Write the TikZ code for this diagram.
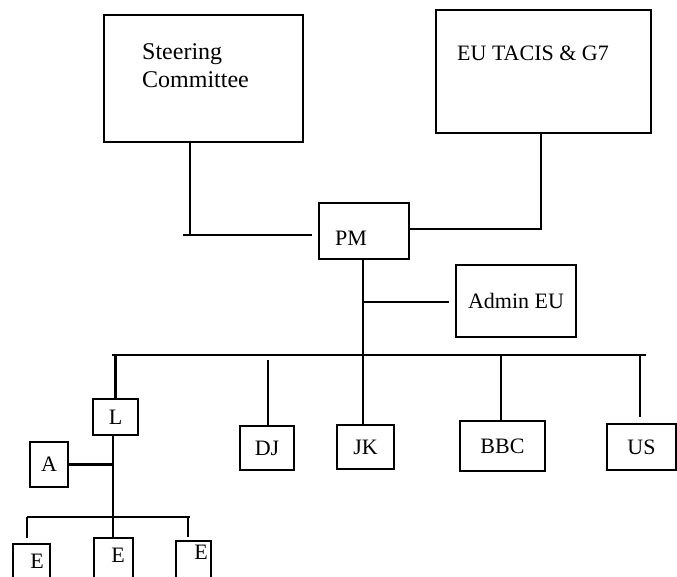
\documentclass[tikz,border=0pt]{standalone}
\usepackage{fontspec}
\setmainfont{Liberation Serif}
\begin{document}
\begin{tikzpicture}[x=1pt,y=-1pt,
  box/.style={draw=black,line width=2.8pt,inner sep=0pt,outer sep=0pt,font=\fontsize{22}{27}\selectfont},
  txt/.style={inner sep=0pt,font=\fontsize{22}{28}\selectfont},
  conn/.style={draw=black,line width=2.5pt}]
\useasboundingbox (0,0) rectangle (677,576);
\clip (0,0) rectangle (677,576);
% boxes
\node[box,minimum width=199pt,minimum height=127pt] (steer) at (203.5,78.5) {};
\node[txt,anchor=west,align=left,font=\fontsize{24}{28}\selectfont] (steert) at (142,66) {Steering\\Committee};
\node[box,minimum width=215pt,minimum height=123pt] (eu) at (543.5,71.5) {};
\node[txt] (eut) at (533,53) {EU TACIS \& G7};
\node[box,minimum width=90pt,minimum height=56pt] (pm) at (364,231) {};
\node[txt] (pmt) at (351,238) {PM};
\node[box,minimum width=120pt,minimum height=72pt] (admin) at (516,301) {Admin EU};
\node[box,minimum width=45pt,minimum height=36pt] (L) at (115.5,417) {L};
\node[box,minimum width=54pt,minimum height=44pt] (dj) at (267,448) {DJ};
\node[box,minimum width=57pt,minimum height=44pt] (jk) at (365.5,447) {JK};
\node[box,minimum width=85pt,minimum height=50pt] (bbc) at (502.5,446) {BBC};
\node[box,minimum width=69pt,minimum height=46pt] (us) at (641.5,447) {US};
\node[box,minimum width=38pt,minimum height=45pt] (A) at (49,464.5) {A};
\node[box,minimum width=37pt,minimum height=46pt] (E1) at (31.5,567) {};
\node[txt] (E1t) at (37,561) {E};
\node[box,minimum width=39pt,minimum height=52pt] (E2) at (113.5,564) {};
\node[txt] (E2t) at (118,555) {E};
\node[box,minimum width=35pt,minimum height=49pt] (E3) at (193.5,565.5) {};
\node[txt] (E3t) at (201,552) {E};
% connector coordinates
\coordinate (s1) at (190,235);
\coordinate (sc) at (183,235);
\coordinate (pmin) at (312,235);
\coordinate (e1) at (541,229);
\coordinate (v) at (363,0);
\coordinate (ad) at (449,302);
\coordinate (bl) at (112,355);
\coordinate (br) at (646,355);
\coordinate (lv) at (113,0);
\coordinate (djt) at (268,360);
\coordinate (bbct) at (501,355);
\coordinate (ust) at (640,355);
\coordinate (usb) at (640,417);
\coordinate (eb1) at (27,517);
\coordinate (eb3) at (190,517);
\coordinate (e1b) at (27,538);
\coordinate (e3t) at (188,517);
\coordinate (e3b) at (188,537);
% connectors
\draw[conn] (s1 |- steer.south) -- (s1);
\draw[conn] (sc) -- (pmin);
\draw[conn] (pm.east |- e1) -- (e1) -- (e1 |- eu.south);
\draw[conn] (v |- pm.south) -- (v |- jk.north);
\draw[conn] (v |- ad) -- (ad);
\draw[conn] (bl) -- (br);
\draw[conn] (bl -| L.north) -- (L.north);
\draw[conn] (djt) -- (djt |- dj.north);
\draw[conn] (bbct) -- (bbct |- bbc.north);
\draw[conn] (ust) -- (usb);
\draw[conn] (lv |- L.south) -- (lv |- E2.north);
\draw[conn] (A.east) -- (lv |- A.east);
\draw[conn] (eb1) -- (eb3);
\draw[conn] (eb1) -- (e1b);
\draw[conn] (e3t) -- (e3b);
\end{tikzpicture}
\end{document}
